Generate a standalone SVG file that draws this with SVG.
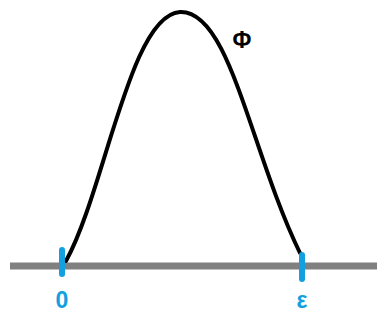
<svg xmlns="http://www.w3.org/2000/svg" width="377" height="325" viewBox="0 0 377 325">
<style>
.axis{stroke:#808080;stroke-width:7;fill:none}
.tick{stroke:#12a0e0;stroke-width:6;stroke-linecap:round;fill:none}
.curve{stroke:#000;stroke-width:4;fill:none;stroke-linecap:round}
.lbl{font-family:"Liberation Sans",Arial,sans-serif;font-weight:bold;font-size:23px;text-anchor:middle}
</style>
<rect width="377" height="325" fill="#fff"/>
<g id="axis"><line class="axis" x1="10" y1="266" x2="377" y2="266"/></g>
<g id="curve"><path class="curve" d="M66,261 C105,190 130,15 180,12 C230,10 250,150 300,253"/></g>
<g id="tick-0"><line class="tick" x1="62" y1="250" x2="62" y2="274"/><text class="lbl" x="62" y="308" fill="#12a0e0">0</text></g>
<g id="tick-eps"><line class="tick" x1="302" y1="255" x2="302" y2="279"/><text class="lbl" x="302" y="308" fill="#12a0e0">ε</text></g>
<g id="phi"><text class="lbl" x="242" y="48" fill="#000">Φ</text></g>
</svg>
